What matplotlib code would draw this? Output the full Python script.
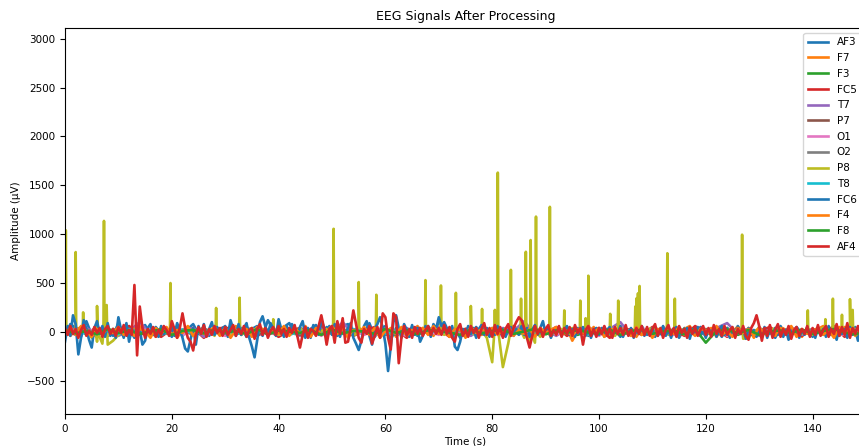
import numpy as np
import matplotlib.pyplot as plt

channels = ['AF3', 'F7', 'F3', 'FC5', 'T7', 'P7', 'O1', 'O2',
            'P8', 'T8', 'FC6', 'F4', 'F8', 'AF4']

# sample grids (s)
t_half = np.arange(0, 150.25, 0.5)
t_1s = np.arange(0, 151, 1.0)
t_2s = np.arange(0, 151, 2.0)

# amplitudes in microvolts
af4 = [40, -30, 60, -20, 30, -60, 20, 70, -40, 10, -30, 50, -10, 40, -50, 30, 60, -20, 30, -40,
       50, -10, 70, -40, 20, -30, 480, -240, 260, 40, -60, 30, -20, 50, -50, 20, -30, 60, 20, -40,
       110, 30, -60, 40, 190, 40, -60, -100, -190, -30, 50, -20, 70, -50, 30, -30, 60, -10, 40, -40,
       50, -30, 20, 70, -40, 30, -20, 60, -50, 20, 40, -70, 30, 80, -30, 40, -60, 10, 50, -30,
       60, -20, 30, -50, 40, -10, 70, -40, -160, -30, 50, -60, 30, 10, -40, 60, 170, 40, -130, 30,
       60, -110, 110, -20, 140, -110, -100, 40, 220, 80, -60, -110, 30, -20, 60, -120, -40, 50, -60, 190,
       150, -60, -180, 190, 150, -320, -60, 60, -40, 30, -60, 50, -20, 40, -40, 20, 60, -30, 40, -20,
       40, -30, 70, -20, 50, -60, -100, 30, 80, -40, 20, -50, 60, -10, 40, -60, 30, 90, -30, 40,
       -50, 70, -20, 50, -60, 30, 80, -40, 40, 100, 150, 120, 40, -60, -160, -40, 60, -20, 40, -50,
       30, 70, -40, 20, -30, 60, -50, 40, -20, 50, -40, 70, -10, 40, -130, 20, 60, -40, 30, -50,
       40, -20, 60, -40, 30, -60, 50, -20, 40, -30, 70, -40, 20, -50, 40, -20, 60, -30, 50, -40,
       30, 80, -40, 40, -60, 20, 70, -30, 40, -50, 60, -10, 30, -60, 50, -20, 40, -40, 20, 60,
       -30, 40, -50, 70, -20, 30, -40, 60, -30, 20, 50, -60, 30, -20, 60, -40, -80, 40, 90, 170,
       60, -90, 40, -40, 70, -60, 20, 80, -50, 30, -30, 60, -70, 20, 50, -40, 30, -20, 60, -50,
       40, -30, 70, -40, 20, 60, -50, 30, -20, 80, -40, 50, -30, 90, -60, 40, -20, 60, -40, 50, 20]

fc6 = [-100, 60, -40, 170, 80, -230, -60, 120, 30, -80, -160, 40, 110, -20, 60, -50, 90, -40, 30, -60,
       150, 20, -60, 90, -100, 30, -40, 60, 20, -130, -90, 40, 80, -30, 20, -50, 60, -20, 40, -30,
       50, -40, 90, 20, -60, -170, -200, -80, 40, -130, 60, -20, 80, -40, 30, 100, -30, 50, -20, 40,
       60, -50, 120, 30, -40, 80, -30, 40, 90, -60, -150, -260, -80, 100, 160, 60, -20, 90, 30, -40,
       130, 30, -50, 60, -20, 80, 20, -40, 50, 110, -30, 40, -60, 70, 20, -30, 130, 40, -40, 60,
       -30, 80, 20, -50, 60, -20, 40, 90, -60, -120, -185, -90, 60, 110, -40, -130, 30, 80, 150, 40,
       -120, -400, -150, 100, 170, 40, -60, 80, 20, -50, 70, -30, 40, -100, -40, 60, 20, -50, 80, 30,
       150, 60, 100, 40, -40, 60, -150, -185, -100, 30, -40, 60, -20, 40, -60, 30, 70, -30, 20, -50,
       40, -30, 60, -20, 30, -50, 20, 50, -40, 30, -20, 60, -30, 40, -50, 20, 70, -30, 40, 110,
       -20, 40, -60, 30, -20, 50, -40, 20, 60, -30, 30, -50, 40, -20, 50, -40, 30, -60, 20, 40,
       -30, 40, -50, 20, 50, -40, 30, -20, 60, -50, 20, -30, 40, -60, 30, -20, 50, -40, 20, -30,
       40, -50, 30, -20, 60, -40, 20, -60, 30, 50, -40, 20, -30, 40, -70, 30, -20, 50, -40, 20,
       -60, 30, -20, 40, -50, 20, 60, -30, 40, -60, 20, -40, 50, -20, 30, -70, 40, -30, 20, -50,
       30, -20, 50, -60, 20, -40, 40, -30, 60, -50, 20, -80, 30, -20, 40, -60, 20, -30, 50, -40,
       20, -60, 40, -20, 30, -50, 60, -30, 20, -80, 40, -20, 30, -60, 50, -30, 20, -90, 40, -20, -70]

af3 = [-60, 80, 40, -50, 110, -30, 60, -20, 50, -40, 90, -30, 40, -60, 20, 70, -30, 50, -20, 40,
       -50, 60, -40, 30, 80, -20, 50, -40, 60, 20, -30, 70, -20, 40, -50, 30, 60, -40, 120, 20,
       -30, 50, 90, -20, 40, -60, 30, 70, -30, 50, 20, -40, 60, 80, -30, 40, -20, 90, -50, 30,
       60, -80, 40, 20, -30, 50, -40, 30, 60, -20, 100, 50, -30, 40, -60, 30, -20, 50, -30, 40,
       -20, 30, -40, 50, 20, -30, 40, -20, 60, -40, 30, -30, 40, -20, 50, -30, 20, 40, -40, 30,
       -20, 50, -30, 20, -50, 40, -20, 30, 60, -30, 20, -40, 50, -20, 30, -60, 40, 20, -30, 50,
       -40, 20, 30, -50, 40, -20, 60, -30, 20, -40, 50, -20, 30, -60, 40, 20, -30, 50, -20, 30,
       -50, 40, 20, -30, 60, -40, 30, -20, 50, -60, 40]

f7 = [30, -40, 20, 50, -30, 10, -60, 40, -20, 30, -10, 50, -40, 20, 60, -30, 10, -50, 40, -20,
      30, -60, 20, 40, -30, 10, 50, -20, 30, -40, 20, -10, 60, -30, 40, -50, 10, 30, -20, 50,
      -40, 20, -10, 40, -30, 60, -20, 10, 30, -50, 40, -20, 30, -60, 10, 50, -30, 20, -40, 30,
      -20, 40, -50, 10, 30, -30, 60, -10, 20, -40, 50, -20, 30, -10, 40, -60, 20, 30, -30, 10,
      -40, 50, -20, 30, -10, 40, -30, 60, -20, 10, 30, -50, 20, -30, 40, -90, 10, 30, -20, 50,
      -30, 20, -40, 10, 60, -20, 30, -50, 40, -10, 20, -30, 50, -20, 10, -40, 30, 60, -30, 20,
      -10, 40, -50, 30, -20, 10, 50, -30, 40, -60, 20, -10, 30, -40, 50, 20, -30, 10, -50, 40,
      -20, 30, 60, -40, 10, -30, 50, -20, 30, -10, 20]

f4 = [-20, 40, -30, 60, 10, -50, 30, -20, 40, -10, 50, -30, 20, -40, 30, 10, -60, 40, -20, 50,
      -30, 20, -10, 60, -40, 30, -20, 10, 50, -30, 40, -60, 20, -10, 30, -40, 50, 20, -30, 10,
      -20, 60, -40, 30, -10, 20, -50, 40, -30, 10, 60, -20, 30, -40, 20, -10, 50, -30, 40, -60,
      10, 30, -20, 50, -40, 20, -10, 40, -30, 60, -20, 10, -50, 30, 20, -40, 50, -10, 30, -20,
      40, -30, 10, 60, -40, 20, -20, 30, -50, 40, -10, 20, 50, -30, 10, -40, 30, -20, 60, -10,
      40, -50, 20, 30, -20, 10, -40, 50, -30, 20, -60, 30, -10, 40, -20, 50, -30, 10, -40, 30,
      20, -20, 60, -30, 10, -50, 40, -10, 30, -40, 50, -20, 20, -30, 40, -10, 60, -50, 30, -20,
      10, 40, -30, 20, -60, 50, -10, 30, -40, 20, -30]

f3 = [10, -20, 30, -10, 20, -30, 15, -5, 25, -20, 10, -15, 30, -25, 5, 20, -10, 25, -30, 15,
      -5, 20, -20, 10, 30, -15, 5, -25, 20, -10, 15, -30, 25, -5, 10, -20, 30, -15, 5, 20,
      -25, 10, -10, 25, -20, 15, -5, 30, -30, 10, 20, -15, 5, -20, 25, -10, 15, -25, 30, -5,
      10, -20, 20, -30, 15, 5, -15, 25, -10, 20, -25, 10, 30, -20, 5, -10]

fc5 = [-30, 40, -20, 50, -40, 20, 60, -30, 10, -50, 30, -20, 40, -60, 20, 50, -10, 30, -40, 20,
       -50, 10, 40, -30, 60, -20, 30, -40, 10, 50, -30, 20, -60, 40, -10, 30, -50, 20, 40, -20,
       10, -40, 60, -30, 20, -10, 50, -40, 30, -20, 40, -60, 10, 30, -30, 50, -20, 20, -40, 60,
       -10, 30, -50, 40, -20, 10, 50, -30, 20, -40, 30, -10, 60, -50, 20, -30]

t7 = [20, -30, 40, -20, 30, -40, 10, 100, -20, 30, -30, 20, 40, -50, 10, 30, -20, 50, -30, 20,
      -10, 40, -40, 20, 30, -20, 100, -30, 20, -40, 30, -10, 40, -30, 20, 50, -20, 10, -40, 30,
      -20, 40, 10, 110, -30, 20, -40, 30, -10, 50, -20, 30, 100, -40, 20, -10, 40, -30, 20, 10,
      -30, 40, 90, -20, 30, -40, 20, -10, 50, -30, 20, -20, 40, 10, -30, 20]

p7 = [10, -20, 20, -10, 30, -25, 15, -5, 20, -30, 25, -10, 5, 20, -15, 30, -20, 10, -25, 15,
      -5, 25, -30, 10, 20, -10, 30, -20, 5, 15, -25, 20, -10, 30, -15, 5, 25, -30, 10, -20,
      20, -5, 15, -25, 30, -10, 20, -15, 5, 25, -20, 10, -30, 15, 20, -10, 25, -5, 10, -20,
      30, -15, 5, 20, -25, 10, -10, 30, -20, 15, -5, 20, -30, 25, 10, -15]

o1 = [-20, 30, -10, 40, -30, 20, -40, 10, 30, -20, 40, -30, 10, -10, 30, -40, 20, -20, 40, 10,
      -30, 20, -10, 30, -40, 40, -20, 10, -30, 20, 30, -10, -40, 20, 10, -30, 40, -20, 30, -10,
      20, -40, 10, 30, -20, 40, -30, 20, -10, 10, -40, 30, 20, -20, 40, -10, 30, -30, 10, 20,
      -20, 40, -40, 10, 30, -10, 20, -30, 40, -20, 10, 30, -10, -30, 20, 40]

o2 = [15, -10, 25, -20, 10, 30, -15, 5, -25, 20, -5, 15, -30, 25, 10, -20, 20, -10, 30, -25,
      5, 20, -15, 10, -30, 25, -5, 15, 20, -20, 10, -25, 30, -10, 5, 20, -30, 15, -5, 25,
      -20, 10, 15, -25, 30, -15, 5, 20, -10, -20, 25, -5, 10, -30, 20, 15, -20, 30, -10, 5,
      -25, 20, -15, 10, 25, -30, 15, -5, 20, -10, 30, -20, 5, 15, -25, 10]

t8 = [-10, 20, -25, 15, 5, -20, 30, -10, 20, -30, 10, 25, -15, 5, -20, 30, -25, 10, 15, -10,
      20, -30, 5, 25, -15, 10, -20, 30, -5, 15, -25, 20, 10, -30, 25, -10, 5, 20, -15, 30,
      -20, 10, -5, 25, -30, 15, 20, -10, 5, -25, 30, -15, 10, 20, -20, 5, -30, 25, -10, 15,
      20, -5, -25, 30, -15, 10, 5, -20, 25, -10, 15, -30, 20, 10, -5, 25]

f8 = [20, -15, 10, -25, 30, -10, 15, -20, 5, 25, -30, 10, 20, -15, 25, -5, 10, -20, 30, -25,
      15, 5, -10, 20, -30, 25, -15, 10, 5, -20, 30, -10, 15, -25, 20, 10, -5, -30, 25, -15,
      10, 20, -20, 5, 30, -25, 15, -10, 20, -5, -15, 25, -30, 10, 20, -20, 5, 15, -25, 30,
      -110, 10, 25, -15, 20, -30, 5, 15, -10, 25, -20, 10, 30, -5, -25, 15]

p8_base = [10, -20, 30, -10, 20, -60, -100, -120, -130, -90, -30, 20, -10, 30, -20, 10, -30, 20, 30, -10,
           20, -30, 10, 40, -20, 30, -10, 20, -40, 10, 30, -20, 20, -30, 10, 40, -20, 30, -10, 20,
           -30, 10, 30, -20, 40, -10, 20, -30, 10, 30, -20, 20, -10, 30, -40, 10, 20, -30, 30, -10,
           20, -20, 10, 30, -30, 20, -10, 40, -20, 10, 30, -30, 20, -10, 30, -20, 10, -40, 20, -60,
           -310, -20, -360, -120, -20, 30, -60, -130, -110, -50, 20, -30, 10, 30, -20, 40, -10, 20, -30, 10,
           30, -20, 20, -40, 10, 30, -20, 10, -30, 20, 40, -10, 20, -30, 10, 30, -20, 20, -10, 30,
           -30, 10, 20, -20, 40, -10, 20, -70, -60, 10, 30, -20, 10, 40, -30, 20, -10, 30, -20, 10,
           -30, 20, 40, -10, 20, -30, 10, 30, -20, 20, -10]

# P8 artefact spikes: time (s) and peak (uV)
spike_t = [0.15, 2.0, 3.4, 6.0, 7.3, 7.8, 19.75, 28.3, 32.7, 39.0, 50.3, 55.0, 58.3, 67.5,
           70.4, 73.2, 76.0, 78.1, 80.5, 81.05, 83.5, 85.4, 86.3, 87.2, 88.2, 90.8, 93.5,
           96.5, 97.5, 98.0, 102.1, 103.6, 106.8, 107.05, 107.3, 107.6, 112.8, 114.2,
           126.8, 139.1, 142.4, 143.8, 145.5, 147.0, 147.5]
spike_v = [1040, 817, 200, 265, 1136, 275, 500, 245, 350, 130, 1055, 510, 380, 530,
           475, 400, 265, 235, 225, 1630, 635, 340, 820, 940, 1180, 1280, 220,
           320, 140, 575, 185, 320, 260, 345, 395, 470, 805, 340,
           995, 220, 130, 340, 175, 335, 225]

spike_t = np.array(spike_t)
half_w = 0.1
p8_t = np.concatenate([t_1s, spike_t - half_w, spike_t, spike_t + half_w])
p8_v = np.concatenate([p8_base, np.zeros(len(spike_t)), spike_v, np.zeros(len(spike_t))])
order = np.argsort(p8_t, kind='stable')

series = {
    'AF3': (t_1s, af3), 'F7': (t_1s, f7), 'F3': (t_2s, f3), 'FC5': (t_2s, fc5),
    'T7': (t_2s, t7), 'P7': (t_2s, p7), 'O1': (t_2s, o1), 'O2': (t_2s, o2),
    'P8': (p8_t[order], p8_v[order]), 'T8': (t_2s, t8), 'FC6': (t_half, fc6),
    'F4': (t_1s, f4), 'F8': (t_2s, f8), 'AF4': (t_half, af4),
}

fig = plt.figure(figsize=(8.59, 4.46), dpi=100)
ax = fig.add_axes([65 / 859, 32 / 446, 801 / 859, 386 / 446])

for name in channels:
    t, v = series[name]
    ax.plot(t, v, label=name, linewidth=1.9)

ax.set_xlim(0, 150)
ax.set_ylim(-840, 3110)
ax.set_xticks(range(0, 141, 20))
ax.set_yticks(range(-500, 3001, 500))
ax.tick_params(labelsize=7.5)
ax.set_title('EEG Signals After Processing', fontsize=9)
ax.set_xlabel('Time (s)', fontsize=7.5, labelpad=2)
ax.set_ylabel('Amplitude (µV)', fontsize=7.5)
ax.legend(loc='upper right', fontsize=7.5, labelspacing=0.55)

fig.savefig('out.png', dpi=100)
